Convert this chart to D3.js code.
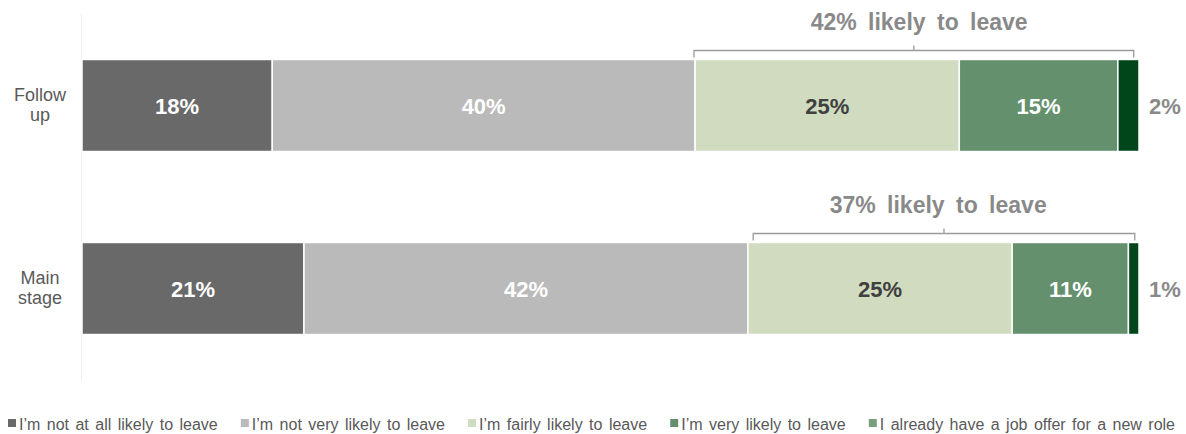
<!DOCTYPE html>
<html><head><meta charset="utf-8">
<script src="https://cdn.jsdelivr.net/npm/d3@7"></script>
<style>html,body{margin:0;padding:0;background:#fff}svg{display:block;font-family:"Liberation Sans",Arial,sans-serif}</style>
</head><body>
<svg id="c" width="1186" height="434"></svg>
<script>
const categories = ["Follow up", "Main stage"];
const categoryLines = [["Follow", "up"], ["Main", "stage"]];
const seriesNames = ["I’m not at all likely to leave", "I’m not very likely to leave", "I’m fairly likely to leave", "I’m very likely to leave", "I already have a job offer for a new role"];
const notAtAll = [18, 21];
const notVery = [40, 42];
const fairly = [25, 25];
const very = [15, 11];
const jobOffer = [2, 1];
const bracketText = ["42% likely to leave", "37% likely to leave"];
const bracketStart = [57.9, 63.5];
const bracketEnd = [99.5, 99.6];
const bracketTextAt = [79.2, 81.0];

const colors = ["#696969", "#bababa", "#d0dbbf", "#64906e", "#00461a"];
const legendColors = ["#696969", "#bababa", "#d0dbbf", "#64906e", "#78a07f"];
const labelColors = ["#ffffff", "#ffffff", "#404040", "#ffffff", "#898989"];
const series = [notAtAll, notVery, fairly, very, jobOffer];

const svg = d3.select("#c");
const x = d3.scaleLinear().domain([0, 100]).range([82, 1139]);
const y = d3.scaleBand().domain(categories).range([14, 380]).paddingInner(0.497).paddingOuter(0.2485);

svg.append("line").attr("x1", 81.5).attr("x2", 81.5).attr("y1", 14).attr("y2", 380).attr("stroke", "#f0f0f0").attr("stroke-width", 1);

categories.forEach((cat, ci) => {
  let cum = 0;
  const y0 = y(cat), bh = y.bandwidth(), cy = y0 + bh / 2;
  series.forEach((s, si) => {
    const v = s[ci];
    const x0 = x(cum), x1 = x(cum + v);
    svg.append("rect").attr("x", x0).attr("y", y0).attr("width", x1 - x0).attr("height", bh)
      .attr("fill", colors[si]).attr("stroke", "#fff").attr("stroke-width", 1.5);
    const lx = si === 4 ? x1 + 26 : (x0 + x1) / 2;
    svg.append("text").attr("x", lx).attr("y", cy + 8).attr("text-anchor", "middle")
      .attr("font-size", 22).attr("font-weight", "bold").attr("fill", labelColors[si]).text(v + "%");
    cum += v;
  });
  const t = svg.append("text").attr("text-anchor", "middle").attr("font-size", 18).attr("fill", "#595959");
  categoryLines[ci].forEach((ln, li) => {
    t.append("tspan").attr("x", 40).attr("y", cy - 4.5 + li * 19.5).text(ln);
  });
  const bx0 = x(bracketStart[ci]), bx1 = x(bracketEnd[ci]), bm = (bx0 + bx1) / 2;
  const by = y0 - 9;
  svg.append("path").attr("d", `M${bx0},${y0 - 2}V${by}H${bx1}V${y0 - 2}M${bm},${by}V${by - 5}`)
    .attr("fill", "none").attr("stroke", "#9a9a9a").attr("stroke-width", 1.3);
  svg.append("text").attr("x", x(bracketTextAt[ci])).attr("y", y0 - 29).attr("text-anchor", "middle")
    .attr("font-size", 23).attr("font-weight", "bold").attr("fill", "#898989").attr("word-spacing", 5).text(bracketText[ci]);
});

// legend: flow layout spanning from left edge to right end
const legendLeft = 8, legendRight = 1175;
const items = seriesNames.map((n, i) => {
  const g = svg.append("g");
  g.append("rect").attr("x", 0).attr("y", 419).attr("width", 8).attr("height", 8).attr("fill", legendColors[i]);
  const t = g.append("text").attr("x", 11).attr("y", 430).attr("font-size", 16).attr("fill", "#595959").attr("word-spacing", 2).text(n);
  return {g, w: 11 + t.node().getComputedTextLength()};
});
const total = d3.sum(items, d => d.w);
const gap = (legendRight - legendLeft - total) / (items.length - 1);
let cx = legendLeft;
items.forEach(it => { it.g.attr("transform", `translate(${cx},0)`); cx += it.w + gap; });
</script>
</body></html>
